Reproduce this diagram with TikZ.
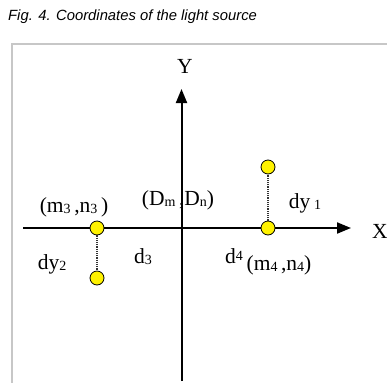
\documentclass[tikz,border=0pt]{standalone}
\usepackage{fontspec}
\setmainfont{Liberation Serif}
\newfontfamily\capfont{Liberation Sans}
\usetikzlibrary{arrows.meta}
\newcommand{\lowidx}[1]{\raisebox{-0.1ex}{\fontsize{14}{14}\selectfont #1}}
\begin{document}
\begin{tikzpicture}[x=1pt,y=-1pt,
  lbl/.style={inner sep=0pt,font=\fontsize{21.5}{22}\selectfont},
  src/.style={circle,draw=black,fill=yellow,line width=0.8pt,minimum size=14pt,inner sep=0pt},
  axis/.style={line width=2pt,-{Triangle[length=14pt,width=11pt]}},
  dot/.style={densely dotted,line width=1.2pt,draw=black!80}]
\useasboundingbox (0,0) rectangle (387,383);
\fill[white] (0,0) rectangle (387,383);
\node[inner sep=0pt,anchor=west,font=\capfont\itshape\fontsize{14.8}{15}\selectfont] (cap) at (8,16.5) {Fig. 4. Coordinates of the light source};
\draw[line width=2pt,draw=black!22] (387,44) -- (11.5,44) -- (11.5,383);
\node[lbl] (Y) at (185,66) {Y};
\node[lbl] (X) at (380,231) {X};
\node[lbl] (m3) at (74,207) {(m\lowidx{3}\,,n\lowidx{3}\,)};
\node[lbl] (D) at (178,200) {(D\lowidx{m}\,,D\lowidx{n})};
\node[lbl] (dy1) at (305,203) {dy\,\lowidx{1}};
\node[lbl] (dy2) at (52,264) {dy\lowidx{2}};
\node[lbl] (d3) at (143,257) {d\lowidx{3}};
\node[lbl] (d4) at (234,256) {d\raisebox{0.3ex}{\fontsize{14}{14}\selectfont 4}};
\node[lbl] (m4) at (279,265) {(m\lowidx{4}\,,n\lowidx{4})};
\coordinate (xs) at (23,228);
\coordinate (xe) at (351,228);
\coordinate (ys) at (181.5,381);
\coordinate (ye) at (181.5,89);
\draw[axis] (xs) -- (xe);
\draw[axis] (ys) -- (ye);
\node[src] (p3) at (97,228) {};
\node[src] (q3) at (97,278) {};
\node[src] (p4) at (268,228) {};
\node[src] (q4) at (268,167) {};
\draw[dot] (p3) -- (q3);
\draw[dot] (p4) -- (q4);
\end{tikzpicture}
\end{document}
